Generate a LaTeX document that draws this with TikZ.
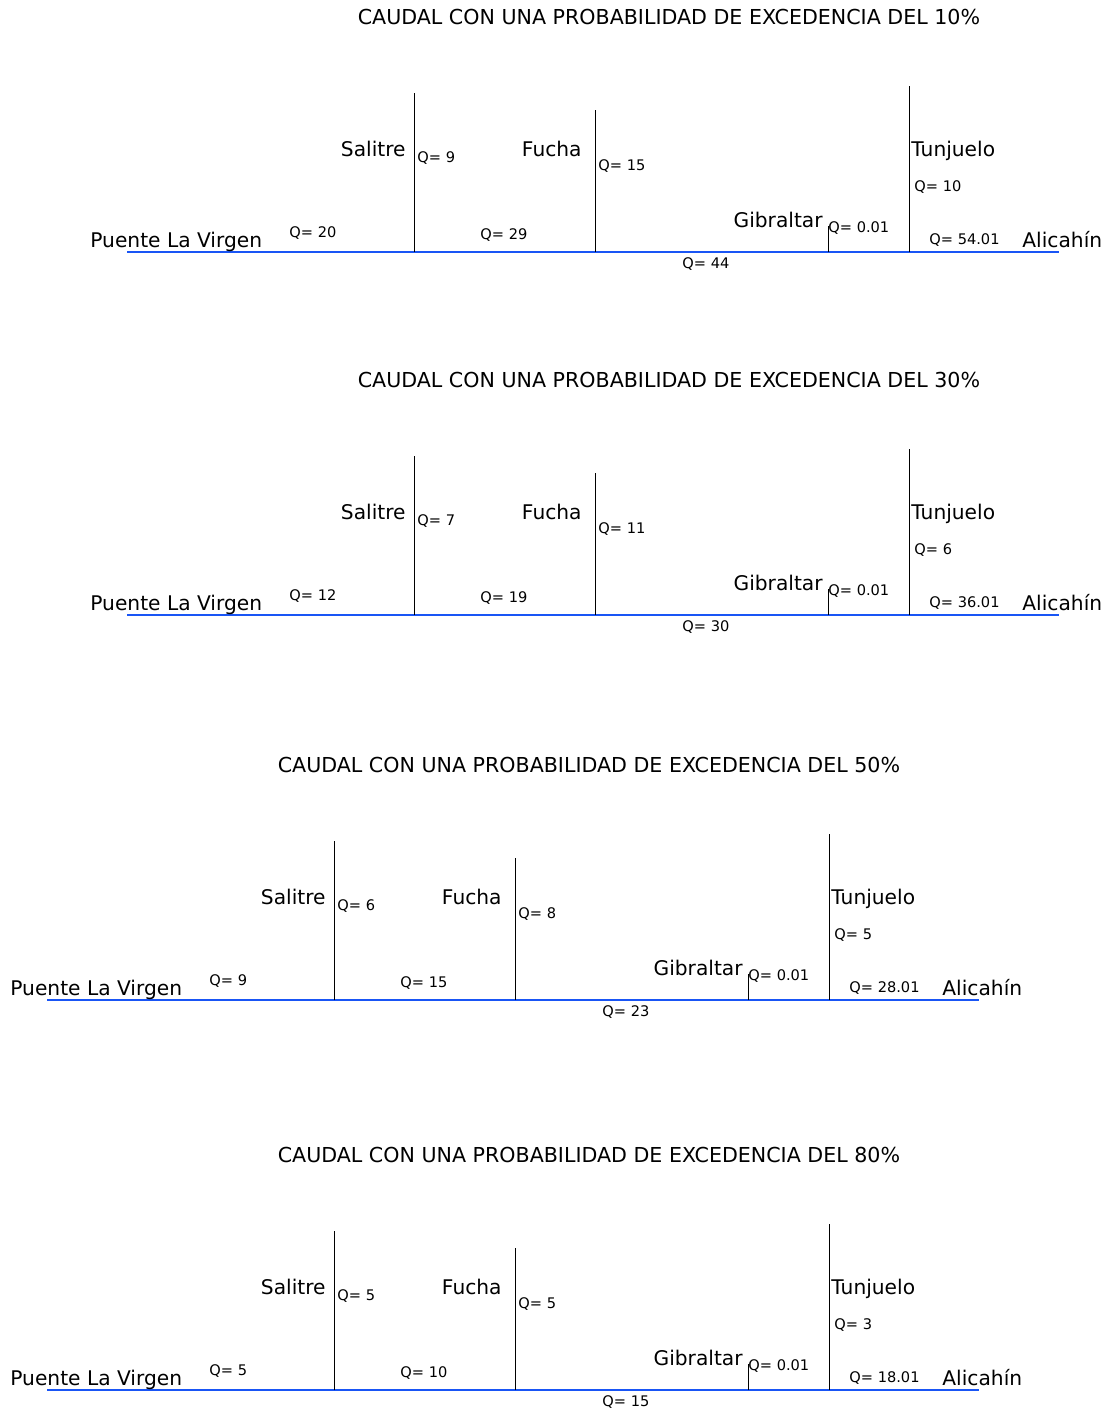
\documentclass[tikz,border=0pt]{standalone}
\usepackage{fontspec}
\setmainfont{DejaVu Sans}
\definecolor{azul}{RGB}{25,85,245}
\tikzset{
  rio/.style={azul, line width=0.6pt},
  afl/.style={black, line width=0.5pt},
  titulo/.style={inner sep=0pt, font=\fontsize{10.3}{12}\selectfont},
  nombre/.style={inner sep=0pt, font=\fontsize{10.1}{12}\selectfont},
  caudal/.style={inner sep=0pt, font=\fontsize{7.3}{9}\selectfont}
}
\begin{document}
\begin{tikzpicture}[x=0.5pt, y=-0.5pt]
    \useasboundingbox (0,0) rectangle (1105,1410);
    \foreach \n/\dx/\dy/\pct/\qa/\qs/\qb/\qf/\qc/\qt/\qd in {1/0/0/10/20/9/29/15/44/10/54.01,2/0/363/30/12/7/19/11/30/6/36.01,3/-80/748/50/9/6/15/8/23/5/28.01,4/-80/1138/80/5/5/10/5/15/3/18.01}
    {
    \begin{scope}[shift={(\dx,\dy)}]
        \node[titulo, anchor=base] (tit\n) at (669,24) {CAUDAL CON UNA PROBABILIDAD DE EXCEDENCIA DEL \pct\%};
        
        \coordinate (ini\n) at (127,252);
        \coordinate (fin\n) at (1059,252);
        \coordinate (jsal\n) at (414,252); \coordinate (tsal\n) at (414,93);
        \coordinate (jfu\n) at (595,252); \coordinate (tfu\n) at (595,110);
        \coordinate (jgib\n) at (828,252); \coordinate (tgib\n) at (828,226);
        \coordinate (jtun\n) at (909,252); \coordinate (ttun\n) at (909,86);
        
        \draw[rio] (ini\n) -- (fin\n);
        \draw[afl] (jsal\n) -- (tsal\n);
        \draw[afl] (jfu\n) -- (tfu\n);
        \draw[afl] (jgib\n) -- (tgib\n);
        \draw[afl] (jtun\n) -- (ttun\n);
        
        \node[nombre, anchor=base west] (pv\n) at (90,247) {Puente La Virgen};
        \node[nombre, anchor=base east] (sal\n) at (406,156) {Salitre};
        \node[nombre, anchor=base east] (fu\n) at (582,156) {Fucha};
        \node[nombre, anchor=base east] (gib\n) at (823,227) {Gibraltar};
        \node[nombre, anchor=base west] (tun\n) at (911,156) {Tunjuelo};
        \node[nombre, anchor=base west] (ali\n) at (1022,247) {Alicahín};
        
        \node[caudal, anchor=base west] (qa\n) at (289,237) {Q= \qa};
        \node[caudal, anchor=base west] (qs\n) at (417,162) {Q= \qs};
        \node[caudal, anchor=base west] (qb\n) at (480,239) {Q= \qb};
        \node[caudal, anchor=base west] (qf\n) at (598,170) {Q= \qf};
        \node[caudal, anchor=base west] (qc\n) at (682,268) {Q= \qc};
        \node[caudal, anchor=base west] (qg\n) at (828,232) {Q= 0.01};
        \node[caudal, anchor=base west] (qt\n) at (914,191) {Q= \qt};
        \node[caudal, anchor=base west] (qd\n) at (929,244) {Q= \qd};
    \end{scope}
    }
\end{tikzpicture}
\end{document}
